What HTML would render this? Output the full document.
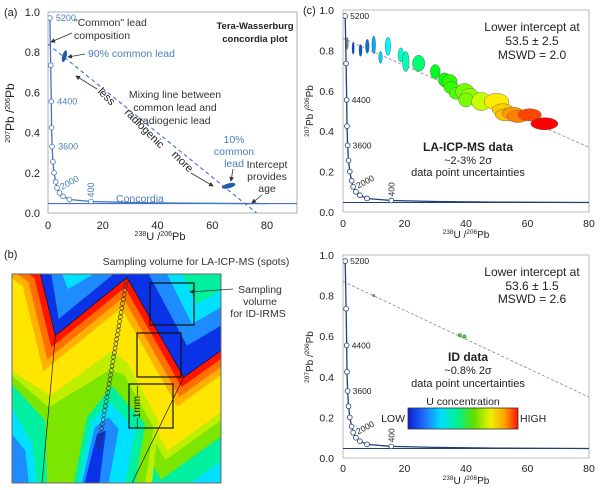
<!DOCTYPE html>
<html><head><meta charset="utf-8">
<style>
html,body{margin:0;padding:0;background:#fff;}
svg{display:block;font-family:"Liberation Sans",sans-serif;}
</style></head>
<body>
<svg id="fig" width="600" height="490" viewBox="0 0 600 490" xmlns="http://www.w3.org/2000/svg">
<defs>
<clipPath id="clipA"><rect x="48" y="12" width="249" height="201"/></clipPath>
<clipPath id="clipC"><rect x="343" y="10" width="246" height="202"/></clipPath>
<clipPath id="clipD"><rect x="343" y="255" width="246" height="203"/></clipPath>
<clipPath id="clipB"><rect x="0" y="0" width="627" height="627"/></clipPath>
<linearGradient id="ubar" x1="0" x2="1" y1="0" y2="0">
<stop offset="0" stop-color="#0a1fd0"/><stop offset="0.15" stop-color="#1e70ff"/><stop offset="0.3" stop-color="#00e0ff"/><stop offset="0.45" stop-color="#00f090"/><stop offset="0.6" stop-color="#60e000"/><stop offset="0.75" stop-color="#f0f000"/><stop offset="0.88" stop-color="#ffa000"/><stop offset="1" stop-color="#ff1000"/>
</linearGradient>
<marker id="ah" markerWidth="6" markerHeight="6" refX="5" refY="3" orient="auto"><path d="M0,0 L6,3 L0,6 z" fill="#333"/></marker>
</defs>

<g>
<text x="4" y="16" font-size="11" fill="#222">(a)</text>
<rect x="48" y="12" width="249" height="201" fill="none" stroke="#999" stroke-width="0.8"/>
<g id="aAxes"></g>
<g id="aPlot" clip-path="url(#clipA)"></g>
<text x="160" y="240" font-size="11" text-anchor="middle" fill="#222"><tspan font-size="7" dy="-4">238</tspan><tspan dy="4">U /</tspan><tspan font-size="7" dy="-4">206</tspan><tspan dy="4">Pb</tspan></text>
<text transform="translate(14,113) rotate(-90)" font-size="12" text-anchor="middle" fill="#222"><tspan font-size="7" dy="-4">207</tspan><tspan dy="4">Pb /</tspan><tspan font-size="7" dy="-4">206</tspan><tspan dy="4">Pb</tspan></text>
<text x="255" y="29" font-size="9.5" font-weight="bold" text-anchor="middle" fill="#222">Tera-Wasserburg</text>
<text x="255" y="42" font-size="9.5" font-weight="bold" text-anchor="middle" fill="#222">concordia plot</text>
<text x="74" y="26" font-size="10.5" fill="#333">"Common" lead</text>
<text x="74" y="39" font-size="10.5" fill="#333">composition</text>
<line x1="72" y1="33" x2="51" y2="42" stroke="#333" stroke-width="0.8" marker-end="url(#ah)"/>
<text x="88" y="57" font-size="10.5" fill="#4a7ebb">90% common lead</text>
<line x1="85" y1="54" x2="68" y2="57" stroke="#333" stroke-width="0.8" marker-end="url(#ah)"/>
<text x="175" y="98" font-size="10.5" text-anchor="middle" fill="#333">Mixing line between</text>
<text x="175" y="111" font-size="10.5" text-anchor="middle" fill="#333">common lead and</text>
<text x="175" y="124" font-size="10.5" text-anchor="middle" fill="#333">radiogenic lead</text>
<text transform="translate(104,99) rotate(45)" font-size="11" text-anchor="middle" fill="#222">less</text>
<text transform="translate(142,131) rotate(45)" font-size="11" text-anchor="middle" fill="#222">radiogenic</text>
<text transform="translate(180,164) rotate(45)" font-size="11" text-anchor="middle" fill="#222">more</text>
<line x1="97" y1="89" x2="76" y2="76" stroke="#333" stroke-width="0.8" marker-end="url(#ah)"/>
<line x1="191" y1="173" x2="213" y2="186" stroke="#333" stroke-width="0.8" marker-end="url(#ah)"/>
<text x="234" y="143" font-size="10.5" text-anchor="middle" fill="#4a7ebb">10%</text>
<text x="234" y="155" font-size="10.5" text-anchor="middle" fill="#4a7ebb">common</text>
<text x="234" y="167" font-size="10.5" text-anchor="middle" fill="#4a7ebb">lead</text>
<line x1="233" y1="169" x2="231" y2="181" stroke="#333" stroke-width="0.8" marker-end="url(#ah)"/>
<text x="267" y="168" font-size="10.5" text-anchor="middle" fill="#333">Intercept</text>
<text x="267" y="180" font-size="10.5" text-anchor="middle" fill="#333">provides</text>
<text x="267" y="192" font-size="10.5" text-anchor="middle" fill="#333">age</text>
<line x1="262" y1="195" x2="252" y2="203" stroke="#333" stroke-width="0.8" marker-end="url(#ah)"/>
<text x="116" y="202" font-size="10.5" fill="#4a7ebb">Concordia</text>
</g>

<g>
<text x="4" y="258" font-size="11" fill="#222">(b)</text>
<text x="196" y="265" font-size="10.5" text-anchor="middle" fill="#333">Sampling volume for LA-ICP-MS (spots)</text>
<g transform="translate(12,274) scale(0.3333)">
<g clip-path="url(#clipB)" id="bMap">
<rect x="0" y="0" width="627" height="627" fill="#0a32e6"/>
</g>
<rect x="0" y="0" width="627" height="627" fill="none" stroke="#666" stroke-width="3"/>
</g>
<rect x="150" y="283" width="44" height="42" fill="none" stroke="#111" stroke-width="1.2"/>
<rect x="137" y="333" width="44" height="44" fill="none" stroke="#111" stroke-width="1.2"/>
<rect x="129" y="384" width="44" height="44" fill="none" stroke="#111" stroke-width="1.2"/>
<text transform="translate(140,407) rotate(-90)" font-size="10" text-anchor="middle" fill="#111">—1mm—</text>
<line x1="233" y1="289" x2="190" y2="292" stroke="#333" stroke-width="0.8" marker-end="url(#ah)"/>
<text x="260" y="293" font-size="10.5" text-anchor="middle" fill="#333">Sampling</text>
<text x="260" y="305" font-size="10.5" text-anchor="middle" fill="#333">volume</text>
<text x="258" y="317" font-size="10.5" text-anchor="middle" fill="#333">for ID-IRMS</text>
</g>

<g>
<text x="303" y="14" font-size="11" fill="#222">(c)</text>
<rect x="343" y="10" width="246" height="202" fill="none" stroke="#aaa" stroke-width="0.8"/>
<g id="cAxes"></g>
<g id="cPlot" clip-path="url(#clipC)"></g>
<text x="466" y="238" font-size="10" text-anchor="middle" fill="#222"><tspan font-size="6.5" dy="-4">238</tspan><tspan dy="4">U /</tspan><tspan font-size="6.5" dy="-4">206</tspan><tspan dy="4">Pb</tspan></text>
<text transform="translate(313,111) rotate(-90)" font-size="10" text-anchor="middle" fill="#222"><tspan font-size="6.5" dy="-4">207</tspan><tspan dy="4">Pb /</tspan><tspan font-size="6.5" dy="-4">206</tspan><tspan dy="4">Pb</tspan></text>
<text x="532" y="31" font-size="12" text-anchor="middle" fill="#222">Lower intercept at</text>
<text x="532" y="45" font-size="12" text-anchor="middle" fill="#222">53.5 ± 2.5</text>
<text x="532" y="59" font-size="12" text-anchor="middle" fill="#222">MSWD = 2.0</text>
<text x="468" y="151" font-size="12" font-weight="bold" text-anchor="middle" fill="#222">LA-ICP-MS data</text>
<text x="468" y="164" font-size="11" text-anchor="middle" fill="#222">~2-3% 2σ</text>
<text x="468" y="176" font-size="11" text-anchor="middle" fill="#222">data point uncertainties</text>
</g>

<g>
<rect x="343" y="255" width="246" height="203" fill="none" stroke="#aaa" stroke-width="0.8"/>
<g id="dAxes"></g>
<g id="dPlot" clip-path="url(#clipD)"></g>
<text x="466" y="484" font-size="10" text-anchor="middle" fill="#222"><tspan font-size="6.5" dy="-4">238</tspan><tspan dy="4">U /</tspan><tspan font-size="6.5" dy="-4">206</tspan><tspan dy="4">Pb</tspan></text>
<text transform="translate(313,357) rotate(-90)" font-size="10" text-anchor="middle" fill="#222"><tspan font-size="6.5" dy="-4">207</tspan><tspan dy="4">Pb /</tspan><tspan font-size="6.5" dy="-4">206</tspan><tspan dy="4">Pb</tspan></text>
<text x="532" y="276" font-size="12" text-anchor="middle" fill="#222">Lower intercept at</text>
<text x="532" y="290" font-size="12" text-anchor="middle" fill="#222">53.6 ± 1.5</text>
<text x="532" y="303" font-size="12" text-anchor="middle" fill="#222">MSWD = 2.6</text>
<text x="468" y="361" font-size="12" font-weight="bold" text-anchor="middle" fill="#222">ID data</text>
<text x="468" y="374" font-size="11" text-anchor="middle" fill="#222">~0.8% 2σ</text>
<text x="468" y="387" font-size="11" text-anchor="middle" fill="#222">data point uncertainties</text>
<text x="463" y="405" font-size="10.5" text-anchor="middle" fill="#222">U concentration</text>
<rect x="408" y="408" width="110" height="21" fill="url(#ubar)" stroke="#333" stroke-width="0.8"/>
<text x="405" y="422" font-size="10.5" text-anchor="end" fill="#222">LOW</text>
<text x="520" y="422" font-size="10.5" fill="#222">HIGH</text>
</g>

<script>
const concX = [0.7, 1.0, 1.2, 1.3, 1.5, 1.8, 2.2, 2.8, 3.3, 4.2, 5.5, 7.8, 15.7, 30, 50, 80];
const concY = [0.97, 0.735, 0.555, 0.425, 0.33, 0.255, 0.2, 0.155, 0.125, 0.1, 0.083, 0.067, 0.057, 0.052, 0.049, 0.047];
const markerCount = 13;
const ageLabels = ["5200", "4400", "3600", "2000", "400"];
const ageLabelIdx = [0, 2, 4, 8, 12];
const xTicks = [0, 20, 40, 60, 80];
const yTicks = [0, 0.2, 0.4, 0.6, 0.8, 1.0];
const yTickLabels = ["0.0", "0.2", "0.4", "0.6", "0.8", "1.0"];
const mixA = [[0, 0.84], [78, -0.02]];
const commonX = [6, 66];
const commonY = [0.78, 0.135];
const laX = [1.4, 3.3, 5.7, 7.9, 10, 12.2, 14.6, 18.8, 20.4, 24.6, 30, 33, 34.7, 35.2, 36.9, 39.6, 41.2, 40, 45, 49.9, 52, 53, 55.3, 56.9, 60.7, 65.5];
const laY = [0.835, 0.81, 0.8, 0.82, 0.827, 0.766, 0.82, 0.778, 0.745, 0.736, 0.695, 0.654, 0.646, 0.616, 0.588, 0.596, 0.572, 0.555, 0.547, 0.547, 0.506, 0.481, 0.489, 0.473, 0.481, 0.437];
const laSx = [0.3, 0.35, 0.5, 0.6, 0.6, 0.6, 0.9, 0.9, 1.1, 2.0, 1.6, 2.0, 2.4, 2.4, 2.4, 3.0, 3.0, 2.4, 3.2, 4.0, 3.5, 3.5, 3.5, 3.5, 3.8, 4.4];
const laSy = [0.03, 0.03, 0.03, 0.035, 0.045, 0.03, 0.045, 0.035, 0.05, 0.04, 0.035, 0.035, 0.035, 0.03, 0.03, 0.04, 0.04, 0.035, 0.045, 0.04, 0.03, 0.03, 0.03, 0.03, 0.03, 0.03];
const fitC = [[0, 0.86], [80, 0.32]];
const idX = [10, 38, 39.5];
const idY = [0.8, 0.605, 0.598];
const fitD = [[0, 0.87], [80, 0.3]];

const NS = "http://www.w3.org/2000/svg";
function mk(tag, attrs, parent) {
  const e = document.createElementNS(NS, tag);
  for (const k in attrs) e.setAttribute(k, attrs[k]);
  parent.appendChild(e);
  return e;
}
function axesFns(x0, x1, y0, y1) {
  return { X: v => x0 + (v / 80) * (x1 - x0), Y: v => y0 - v * (y0 - y1) };
}
const A = axesFns(48, 267, 213, 12);
const C = axesFns(343, 589, 212, 10);
const D = axesFns(343, 589, 458, 255);

function drawAxes(g, F, fs, xLabY, yLabX) {
  xTicks.forEach(t => {
    const tx = mk("text", { x: F.X(t), y: xLabY, "font-size": fs, "text-anchor": "middle", fill: "#222" }, g);
    tx.textContent = t;
    
    
  });
  yTicks.forEach((t, i) => {
    const ty = mk("text", { x: yLabX, y: F.Y(t) + 4, "font-size": fs, "text-anchor": "end", fill: "#222" }, g);
    ty.textContent = yTickLabels[i];
    
    
  });
}
function drawConcordia(g, F, color, labelColor, fs, labOff) {
  let d = "";
  concX.forEach((x, i) => { d += (i ? "L" : "M") + F.X(x).toFixed(1) + "," + F.Y(concY[i]).toFixed(1); });
  const p = mk("path", { d: d, fill: "none", stroke: color, "stroke-width": 1.3 }, g);
  
  
  for (let i = 0; i < markerCount; i++) {
    const c = mk("circle", { cx: F.X(concX[i]), cy: F.Y(concY[i]), r: 2.4, fill: "#fff", stroke: color, "stroke-width": 0.8 }, g);
    
    
  }
  ageLabels.forEach((lab, k) => {
    const i = ageLabelIdx[k];
    const px = F.X(concX[i]), py = F.Y(concY[i]);
    let t;
    if (lab === "2000") t = mk("text", { transform: `translate(${px + 5},${py + 2}) rotate(-28)`, "font-size": fs, fill: labelColor }, g);
    else if (lab === "400") t = mk("text", { transform: `translate(${px + 3},${py - 4}) rotate(-90)`, "font-size": fs, fill: labelColor }, g);
    else t = mk("text", { x: px + labOff, y: py + 3, "font-size": fs, fill: labelColor }, g);
    t.textContent = lab;
    
    
  });
}
function line(g, F, pts, color, dash, w) {
  return mk("line", { x1: F.X(pts[0][0]), y1: F.Y(pts[0][1]), x2: F.X(pts[1][0]), y2: F.Y(pts[1][1]), stroke: color, "stroke-dasharray": dash, "stroke-width": w }, g);
}

const aAx = document.getElementById("aAxes"), aP = document.getElementById("aPlot");
drawAxes(aAx, A, 11, 229, 40);
const ml = line(aP, A, mixA, "#3c5fcc", "4,3", 1);


mk("line", { x1: 48, y1: A.Y(0.047), x2: 297, y2: A.Y(0.047), stroke: "#4472c4", "stroke-width": 1.2 }, aP);
drawConcordia(aP, A, "#4472c4", "#4a7ebb", 9, 6);
commonX.forEach((x, i) => {
  const e = mk("ellipse", { cx: 0, cy: 0, rx: i ? 7 : 2.2, ry: i ? 2.4 : 6, fill: "#1f5fa8", transform: `translate(${A.X(x)},${A.Y(commonY[i])}) rotate(${i ? -15 : 15})` }, aP);
  
  
});

const cAx = document.getElementById("cAxes"), cP = document.getElementById("cPlot");
drawAxes(cAx, C, 10.5, 227, 334);
const fc = line(cP, C, fitC, "#888", "3,2", 0.8);


mk("line", { x1: 343, y1: C.Y(0.047), x2: 589, y2: C.Y(0.047), stroke: "#1f3f7a", "stroke-width": 1 }, cP);
laX.forEach((x, i) => {
  const hue = Math.max(0, 235 - x * 3.6);
  const fill = i === 0 ? "#888" : `hsl(${hue},100%,${hue > 200 ? 42 : 50}%)`;
  const e = mk("ellipse", { cx: C.X(x), cy: C.Y(laY[i]), rx: laSx[i] * 3.075, ry: laSy[i] * 202, fill: fill, stroke: "#555", "stroke-width": 0.4 }, cP);
  
  
});
drawConcordia(cP, C, "#1f3f7a", "#222", 8.5, 5);

const dAx = document.getElementById("dAxes"), dP = document.getElementById("dPlot");
drawAxes(dAx, D, 10.5, 472, 334);
const fd = line(dP, D, fitD, "#888", "3,2", 0.8);


mk("line", { x1: 343, y1: D.Y(0.047), x2: 589, y2: D.Y(0.047), stroke: "#1f3f7a", "stroke-width": 1 }, dP);
idX.forEach((x, i) => {
  const e = mk("ellipse", { cx: D.X(x), cy: D.Y(idY[i]), rx: i ? 1.8 : 1.2, ry: i ? 1.8 : 1.2, fill: i ? "#44cc22" : "#777", stroke: "#336", "stroke-width": 0.3 }, dP);
  
  
});
drawConcordia(dP, D, "#1f3f7a", "#222", 8.5, 5);

// Panel B map
const bM = document.getElementById("bMap");
const W = "0,-60 85,0 130,185 345,10 515,310 627,230 720,160";
const bands = [[400, "#1e8cff"], [330, "#00e0ff"], [270, "#00f0a0"], [210, "#7de600"], [170, "#c0ee00"], [150, "#ffe600"], [60, "#ffb000"], [40, "#ff7000"], [20, "#ff1400"]];
bands.forEach(b => {
  mk("polyline", { points: W, fill: "none", stroke: b[1], "stroke-width": b[0] * 2, "stroke-linejoin": "miter", "stroke-miterlimit": 10 }, bM);
});
// lower-left and finger regions
[["0,290 115,365 300,230 345,265 440,440 420,627 0,627", "#c0ee00"],
 ["0,305 110,400 290,290 335,300 425,460 400,627 0,627", "#7de600"],
 ["0,330 100,440 105,627 0,627", "#00f0a0"],
 ["0,400 60,510 75,627 0,627", "#00e0ff"],
 ["0,480 40,530 50,627 0,627", "#1e8cff"],
 ["185,627 225,430 300,335 400,450 370,627", "#00f0a0"],
 ["200,627 240,440 295,385 370,470 340,627", "#00e0ff"],
 ["210,627 248,460 290,430 320,465 290,627", "#1e8cff"],
 ["218,627 255,480 282,470 262,627", "#0a32e6"]].forEach(p => {
  mk("polygon", { points: p[0], fill: p[1] }, bM);
});
mk("polygon", { points: "85,0 130,185 345,10 345,0", fill: "#0a32e6" }, bM);
mk("polygon", { points: "118,0 140,135 305,0", fill: "#1e8cff" }, bM);
mk("polygon", { points: "150,0 168,45 245,0", fill: "#00e0ff" }, bM);
mk("polygon", { points: "345,0 345,10 515,310 627,230 627,0", fill: "#0a32e6" }, bM);
mk("polygon", { points: "410,0 525,215 627,155 627,0", fill: "#1e8cff" }, bM);
mk("polygon", { points: "465,0 540,150 627,100 627,0", fill: "#00e0ff" }, bM);
mk("polygon", { points: "510,0 555,90 627,50 627,0", fill: "#00f0a0" }, bM);
mk("polyline", { points: "85,0 130,185 345,10 515,310 627,230", fill: "none", stroke: "#111", "stroke-width": 2 }, bM);
mk("line", { x1: 130, y1: 185, x2: 90, y2: 627, stroke: "#111", "stroke-width": 2 }, bM);
mk("line", { x1: 515, y1: 310, x2: 360, y2: 627, stroke: "#111", "stroke-width": 2 }, bM);
for (let i = 0; i < 38; i++) {
  const t = i / 37;
  const s = mk("circle", { cx: 343 - t * 83, cy: 22 + t * 495, r: 6, fill: "none", stroke: "#333", "stroke-width": 2 }, bM);
  
  
}
</script>
</svg>
</body></html>
